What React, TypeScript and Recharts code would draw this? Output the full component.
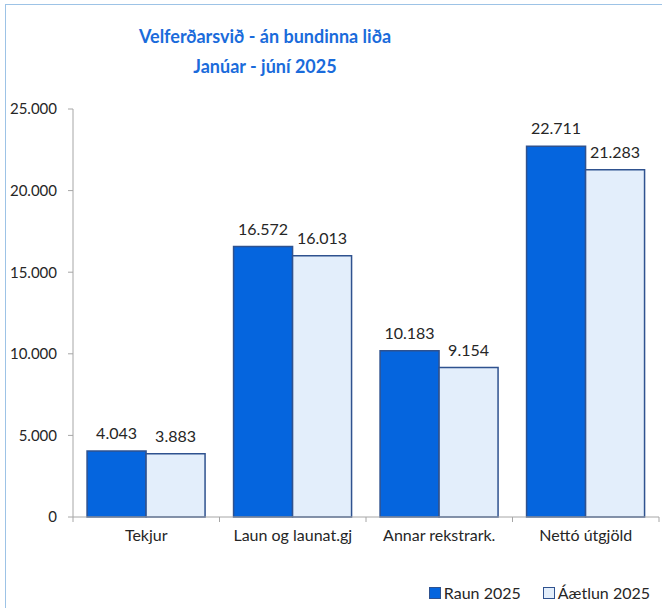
import React from "react";
import { BarChart, Bar, XAxis, YAxis, LabelList, Legend } from "recharts";

const categories = ["Tekjur", "Laun og launat.gj", "Annar rekstrark.", "Nettó útgjöld"];
const raun2025 = [4043, 16572, 10183, 22711];
const aetlun2025 = [3883, 16013, 9154, 21283];
const yTicks = [0, 5000, 10000, 15000, 20000, 25000];
const seriesNames = ["Raun 2025", "Áætlun 2025"];

const data = categories.map((name, i) => ({
  name,
  raun: raun2025[i],
  aetlun: aetlun2025[i],
}));

const FONT = "Lato, 'Open Sans', sans-serif";
const AXIS = "#A6A6A6";
const TEXT = "#262626";
const DARK = "#0565DE";
const LIGHT = "#E3EEFB";
const EDGE = "#2F528F";

const fmt = (v: number) => String(v).replace(/\B(?=(\d{3})+(?!\d))/g, ".");

const CatTick = (props: any) => {
  const { x, y, payload, index, visibleTicksCount, width } = props;
  const half = payload?.offset ?? width / visibleTicksCount / 2;
  const axisY = y - 13;
  return (
    <g>
      <line x1={x - half} x2={x - half} y1={axisY} y2={axisY + 5} stroke={AXIS} />
      {index === visibleTicksCount - 1 && (
        <line x1={x + half} x2={x + half} y1={axisY} y2={axisY + 5} stroke={AXIS} />
      )}
      <text x={x} y={y} dy="0.71em" textAnchor="middle" fill={TEXT} fontSize={16} fontFamily={FONT}>
        {payload.value}
      </text>
    </g>
  );
};

const LegendBox = () => (
  <div
    style={{
      display: "flex",
      justifyContent: "flex-end",
      alignItems: "center",
      gap: 22,
      paddingRight: 9,
      fontFamily: FONT,
      fontSize: 16,
      color: TEXT,
    }}
  >
    {seriesNames.map((n, i) => (
      <div key={n} style={{ display: "flex", alignItems: "center", gap: 3 }}>
        <span
          style={{
            width: 10,
            height: 10,
            background: i === 0 ? DARK : LIGHT,
            border: `1px solid ${EDGE}`,
            display: "inline-block",
          }}
        />
        <span>{n}</span>
      </div>
    ))}
  </div>
);

export default function App() {
  return (
    <div style={{ position: "absolute", left: 0, top: 0, width: 662, height: 608, background: "#fff", overflow: "hidden" }}>
      <div
        style={{
          position: "absolute",
          left: 5,
          top: 4,
          width: 700,
          height: 700,
          borderLeft: "1px solid #9DC3E6",
          borderTop: "1px solid #9DC3E6",
        }}
      />
      <div
        style={{
          position: "absolute",
          left: 0,
          top: 21,
          width: 530,
          textAlign: "center",
          fontFamily: FONT,
          fontWeight: 700,
          fontSize: 18,
          lineHeight: "30px",
          color: "#1A6BDB",
        }}
      >
        <div>Velferðarsvið - án bundinna liða</div>
        <div>Janúar - júní 2025</div>
      </div>
      <BarChart
        width={662}
        height={608}
        data={data}
        margin={{ top: 109, right: 3, left: 0, bottom: 6 }}
        barCategoryGap="9.6%"
        barGap={0}
        style={{ position: "absolute", left: 0, top: 0 }}
      >
        <YAxis
          width={73}
          domain={[0, 25000]}
          ticks={yTicks}
          interval={0}
          tickFormatter={fmt}
          tick={{ fill: TEXT, fontSize: 15, fontFamily: FONT }}
          tickSize={5}
          tickMargin={11}
          stroke={AXIS}
          axisLine={{ stroke: AXIS }}
          tickLine={{ stroke: AXIS }}
        />
        <XAxis
          dataKey="name"
          height={66}
          interval={0}
          tickLine={false}
          tickSize={5}
          tickMargin={8}
          axisLine={{ stroke: AXIS }}
          tick={<CatTick />}
        />
        <Legend verticalAlign="bottom" align="right" content={<LegendBox />} />
        <Bar dataKey="raun" name={seriesNames[0]} fill={DARK} stroke={EDGE} strokeWidth={1.5} isAnimationActive={false}>
          <LabelList dataKey="raun" position="top" offset={12} formatter={(v: any) => fmt(v)} fill={TEXT} fontSize={16} fontFamily={FONT} />
        </Bar>
        <Bar dataKey="aetlun" name={seriesNames[1]} fill={LIGHT} stroke={EDGE} strokeWidth={1.5} isAnimationActive={false}>
          <LabelList dataKey="aetlun" position="top" offset={12} formatter={(v: any) => fmt(v)} fill={TEXT} fontSize={16} fontFamily={FONT} />
        </Bar>
      </BarChart>
    </div>
  );
}
